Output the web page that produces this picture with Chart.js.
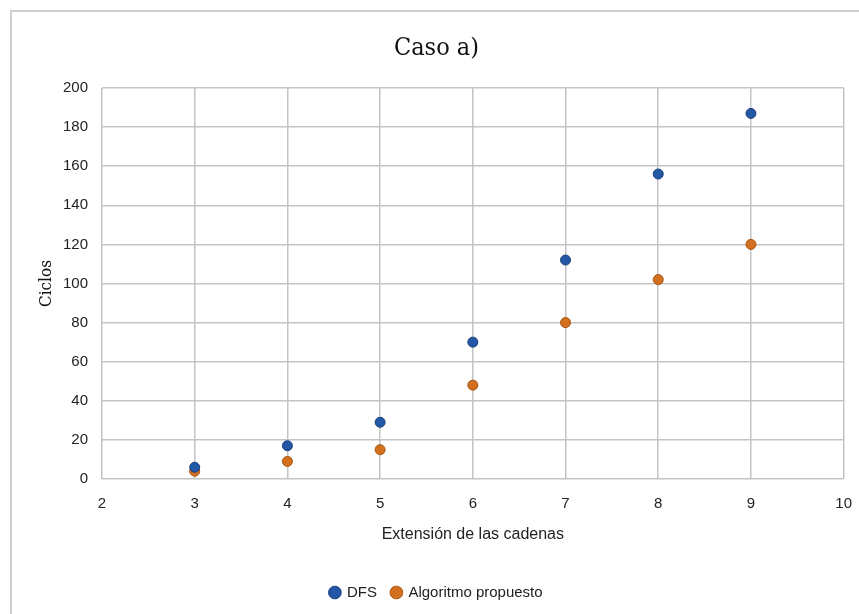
<!DOCTYPE html>
<html>
<head>
<meta charset="utf-8">
<script src="https://cdn.jsdelivr.net/npm/chart.js@4"></script>
<style>
  body { margin: 0; background: #fff; }
  #frame { position: absolute; left: 10px; top: 10px; width: 849px; height: 604px;
           border-left: 2px solid #cfcfcf; border-top: 2px solid #cfcfcf; }
  #myChart { position: absolute; left: 0; top: 0; }
</style>
</head>
<body>
<div id="frame"></div>
<canvas id="myChart" width="859" height="614"></canvas>
<script>
var xValues = [3, 4, 5, 6, 7, 8, 9]
var dfsValues = [6, 17, 29, 70, 112, 156, 187]
var propValues = [4, 9, 15, 48, 80, 102, 120]

var sans = "'Liberation Sans Narrow', 'Liberation Sans', sans-serif"
var serif = "'DejaVu Serif Condensed', 'Liberation Serif', serif"

function toPoints(ys) {
    return xValues.map((x, i) => ({ x: x, y: ys[i] }))
}

new Chart("myChart", {
    type: "scatter",
    data: {
        datasets: [{
            label: "DFS",
            data: toPoints(dfsValues),
            backgroundColor: "#2458a6",
            borderColor: "#1a3f7a",
            borderWidth: 1,
            pointRadius: 5,
            pointHoverRadius: 5
        }, {
            label: "Algoritmo propuesto",
            data: toPoints(propValues),
            backgroundColor: "#d2701f",
            borderColor: "#a9540f",
            borderWidth: 1,
            pointRadius: 5,
            pointHoverRadius: 5
        }]
    },
    options: {
        responsive: false,
        animation: false,
        layout: { padding: { left: 28, right: 14, top: 0, bottom: 4 } },
        plugins: {
            title: {
                display: true,
                text: "Caso a)",
                color: "#111",
                font: { family: serif, size: 25, weight: "normal" },
                padding: { top: 33, bottom: 25 }
            },
            legend: {
                position: "bottom",
                labels: {
                    usePointStyle: true,
                    pointStyle: "circle",
                    boxWidth: 9,
                    boxHeight: 9,
                    color: "#222",
                    font: { family: sans, size: 15 },
                    padding: 15
                }
            },
            tooltip: { enabled: false }
        },
        scales: {
            x: {
                min: 2, max: 10,
                ticks: { stepSize: 1, color: "#222", font: { family: sans, size: 15 }, padding: 7 },
                grid: { color: "#c4c4c4", lineWidth: 1.5, drawTicks: true, tickLength: 9, tickColor: "rgba(0,0,0,0)" },
                border: { display: false },
                title: {
                    display: true, text: "Extensión de las cadenas", color: "#222",
                    font: { family: sans, size: 16 }, padding: { top: 0, bottom: 26 }
                },
                afterFit: function (scale) { scale.height = 91 }
            },
            y: {
                min: 0, max: 200,
                ticks: { stepSize: 20, color: "#222", font: { family: sans, size: 15 }, padding: 14 },
                grid: { color: "#c4c4c4", lineWidth: 1.5, drawTicks: false },
                border: { display: false },
                title: {
                    display: true, text: "Ciclos", color: "#111",
                    font: { family: serif, size: 17 }, padding: { top: 8, bottom: 0 }
                },
                afterFit: function (scale) { scale.width = 74 }
            }
        }
    }
})
</script>
</body>
</html>
